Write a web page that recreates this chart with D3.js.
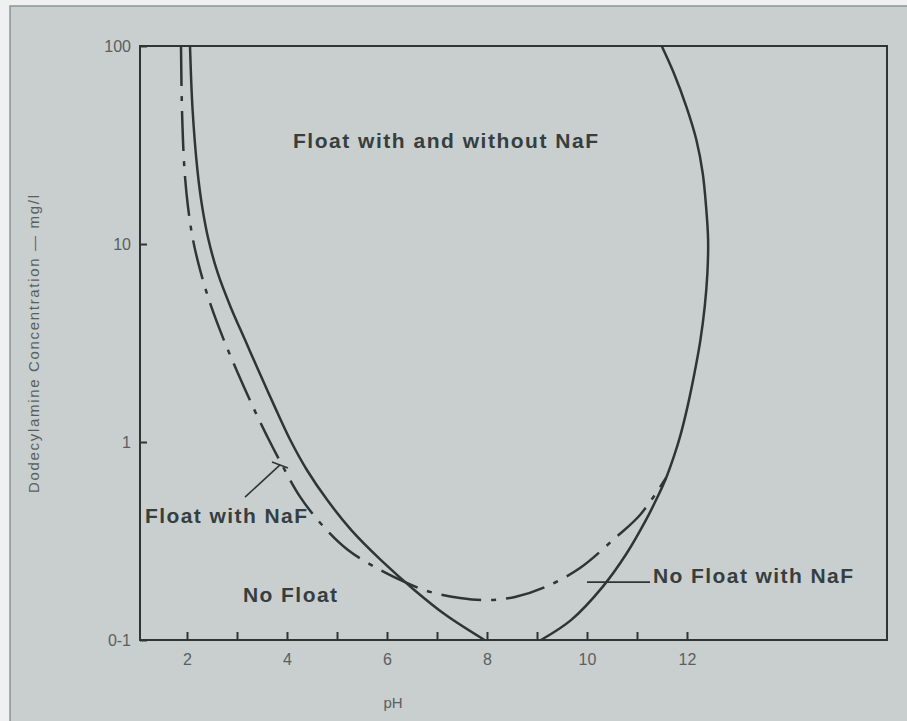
<!DOCTYPE html>
<html>
<head>
<meta charset="utf-8">
<script src="https://cdn.jsdelivr.net/npm/d3@7"></script>
<style>
body { margin: 0; background: #eff1f1; }
svg { display: block; }
svg text { font-family: "Liberation Sans", Arial, sans-serif; }
</style>
</head>
<body>
<script>
// solid boundary, left branch (float without NaF)
var solidLeftPH   = [2.06, 2.112, 2.208, 2.304, 2.43, 2.614, 2.872, 3.162, 3.452, 3.758, 4.068, 4.398, 4.806, 5.286, 5.874, 6.546, 7.17, 7.95];
var solidLeftConc = [100, 47.5, 23.7, 15.4, 10.5, 7.14, 4.81, 3.27, 2.23, 1.50, 1.02, 0.722, 0.509, 0.359, 0.254, 0.179, 0.134, 0.1];

// solid boundary, right branch
var solidRightPH   = [9.08, 9.68, 10.308, 10.798, 11.18, 11.41, 11.582, 11.748, 11.868, 12.008, 12.15, 12.268, 12.354, 12.408, 12.422, 12.382, 12.314, 12.188, 11.99, 11.732, 11.494];
var solidRightConc = [0.1, 0.126, 0.185, 0.275, 0.404, 0.527, 0.658, 0.86, 1.08, 1.5, 2.23, 3.27, 4.81, 7.14, 10.5, 15.4, 22.8, 33.5, 49.1, 73.4, 100];

// dash-dot boundary (with NaF)
var nafPH   = [1.88, 1.90, 1.95, 2.02, 2.12, 2.278, 2.488, 2.738, 3.016, 3.322, 3.61, 3.90, 4.266, 4.702, 5.22, 5.82, 6.36, 6.86, 7.46, 8.00, 8.56, 9.16, 9.86, 10.56, 11.06, 11.58];
var nafConc = [100, 47.5, 23.7, 15.4, 10.5, 7.14, 4.81, 3.27, 2.23, 1.50, 1.06, 0.766, 0.527, 0.381, 0.285, 0.229, 0.196, 0.175, 0.163, 0.159, 0.165, 0.185, 0.231, 0.327, 0.428, 0.658];

var xTicks = [2, 3, 4, 5, 6, 7, 8, 9, 10, 11, 12];
var yTicks = [0.1, 1, 10, 100];
var yTickLabels = ["0-1", "1", "10", "100"];

var regionLabels = ["Float with and without NaF", "Float with NaF", "No Float", "No Float with NaF"];
var labelPH      = [4.12, 1.16, 3.12, 11.32];
var labelEndPH   = [10.22, 4.40, 5.00, 15.32];
var labelConc    = [30.6, 0.39, 0.156, 0.194];

// leader lines: [pH0, pH1], [conc0, conc1]
var leaderPH   = [[3.16, 3.86], [3.70, 4.02], [10.0, 11.26]];
var leaderConc = [[0.527, 0.766], [0.793, 0.739], [0.196, 0.196]];

var w = 907;
var h = 721;
var ink = "#2f3535";
var grey = "#596060";

var svg = d3.select("body")
	.append("svg")
	.attr("width", w)
	.attr("height", h);

// scanned page background with its edge
svg.append("rect")
	.attr("x", 10)
	.attr("y", 6)
	.attr("width", w)
	.attr("height", h)
	.attr("fill", "#c9cfcf")
	.attr("stroke", "#8e9494")
	.attr("stroke-width", 1.5);

var x = d3.scaleLinear().domain([1.06, 16]).range([140, 887]);
var y = d3.scaleLog().domain([0.1, 100]).range([640, 46]);

// bottom axis, ticks point up into the plot
var xAxis = d3.axisBottom(x)
	.tickValues(xTicks)
	.tickSizeInner(-8)
	.tickSizeOuter(0)
	.tickPadding(14)
	.tickFormat(function(d) { return d % 2 === 0 ? d : ""; });

var gx = svg.append("g")
	.attr("transform", "translate(0," + y(0.1) + ")")
	.call(xAxis);

var yAxis = d3.axisLeft(y)
	.tickValues(yTicks)
	.tickSizeInner(-7)
	.tickSizeOuter(0)
	.tickPadding(9)
	.tickFormat(function(d, i) { return yTickLabels[i]; });

var gy = svg.append("g")
	.attr("transform", "translate(" + x(1.06) + ",0)")
	.call(yAxis);

[gx, gy].forEach(function(g) {
	g.select(".domain").remove();
	g.selectAll(".tick line").attr("stroke", ink).attr("stroke-width", 2);
	g.selectAll(".tick text")
		.attr("fill", grey)
		.style("font-size", "16px")
		.style("font-family", "'Liberation Sans', Arial, sans-serif");
});

// plot frame
svg.append("rect")
	.attr("x", x(1.06))
	.attr("y", y(100))
	.attr("width", x(16) - x(1.06))
	.attr("height", y(0.1) - y(100))
	.attr("fill", "none")
	.attr("stroke", ink)
	.attr("stroke-width", 2);

var line = d3.line()
	.x(function(d) { return x(d[0]); })
	.y(function(d) { return y(d[1]); })
	.curve(d3.curveCatmullRom.alpha(0.5));

function pairs(a, b) {
	return a.map(function(v, i) { return [v, b[i]]; });
}

svg.append("path")
	.attr("d", line(pairs(nafPH, nafConc)))
	.attr("fill", "none")
	.attr("stroke", ink)
	.attr("stroke-width", 2.5)
	.attr("stroke-dasharray", "40,10,5,10");

svg.append("path")
	.attr("d", line(pairs(solidLeftPH, solidLeftConc)))
	.attr("fill", "none")
	.attr("stroke", ink)
	.attr("stroke-width", 2.5);

svg.append("path")
	.attr("d", line(pairs(solidRightPH, solidRightConc)))
	.attr("fill", "none")
	.attr("stroke", ink)
	.attr("stroke-width", 2.5);

// leader lines to labels
svg.selectAll("line.leader")
	.data(leaderPH)
	.enter()
	.append("line")
	.attr("class", "leader")
	.attr("x1", function(d) { return x(d[0]); })
	.attr("x2", function(d) { return x(d[1]); })
	.attr("y1", function(d, i) { return y(leaderConc[i][0]); })
	.attr("y2", function(d, i) { return y(leaderConc[i][1]); })
	.attr("stroke", ink)
	.attr("stroke-width", 1.6);

svg.selectAll("text.region")
	.data(regionLabels)
	.enter()
	.append("text")
	.attr("class", "region")
	.attr("x", function(d, i) { return x(labelPH[i]); })
	.attr("y", function(d, i) { return y(labelConc[i]); })
	.attr("textLength", function(d, i) { return x(labelEndPH[i]) - x(labelPH[i]); })
	.attr("lengthAdjust", "spacing")
	.attr("fill", "#373e3e")
	.style("font-size", "21px")
	.style("font-weight", "bold")
	.text(function(d) { return d; });

// axis titles
svg.append("text")
	.attr("x", x(6.12))
	.attr("y", 708)
	.attr("text-anchor", "middle")
	.attr("fill", grey)
	.style("font-size", "15px")
	.text("pH");

svg.append("text")
	.attr("transform", "translate(39,344) rotate(-90)")
	.attr("text-anchor", "middle")
	.attr("textLength", 298)
	.attr("lengthAdjust", "spacing")
	.attr("fill", grey)
	.style("font-size", "15px")
	.text("Dodecylamine Concentration — mg/l");
</script>
</body>
</html>
